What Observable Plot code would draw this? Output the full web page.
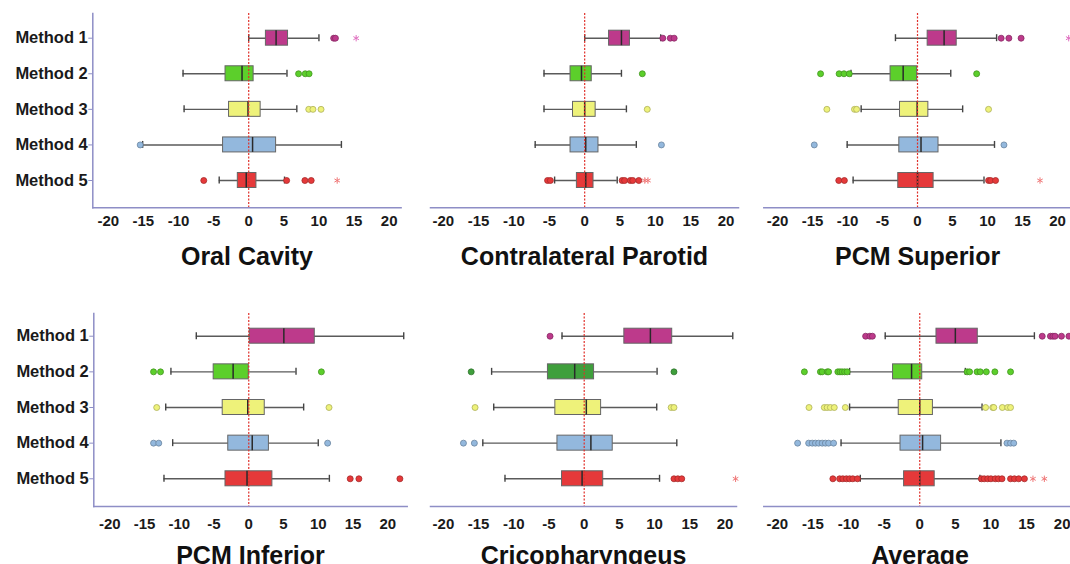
<!DOCTYPE html>
<html><head><meta charset="utf-8">
<script src="https://cdn.jsdelivr.net/npm/d3@7"></script>
<script src="https://cdn.jsdelivr.net/npm/@observablehq/plot@0.6"></script>
<style>
html,body{margin:0;padding:0;background:#fff;}
#wrap{position:relative;width:1070px;height:564px;overflow:hidden;background:#fff;}
.panel{position:absolute;}
.panel svg{max-width:none !important;background:transparent !important;}
</style></head><body><div id="wrap"></div>
<script>
// ---------- data ----------
const methods = ["Method 1", "Method 2", "Method 3", "Method 4", "Method 5"];
const panelTitles = ["Oral Cavity", "Contralateral Parotid", "PCM Superior", "PCM Inferior", "Cricopharyngeus", "Average"];
const xTicks = [-20, -15, -10, -5, 0, 5, 10, 15, 20];

const whiskerLow = [
  [0.0, -9.35, -9.2, -15.1, -4.2],
  [0.0, -5.75, -5.75, -7.0, -4.25],
  [-3.15, -9.5, -8.05, -10.05, -9.2],
  [-7.55, -11.2, -11.95, -10.95, -12.2],
  [-3.15, -13.15, -12.85, -14.4, -11.25],
  [-4.85, -9.85, -9.85, -11.05, -8.35]
];
const quartile1 = [
  [2.45, -3.3, -2.8, -3.65, -1.55],
  [3.45, -2.0, -1.65, -2.0, -1.1],
  [1.45, -3.85, -2.5, -2.6, -2.75],
  [0.15, -5.05, -3.75, -2.95, -3.35],
  [5.7, -5.15, -4.1, -3.8, -3.15],
  [2.35, -3.75, -2.95, -2.7, -2.2]
];
const median = [
  [3.9, -0.95, -0.1, 0.55, -0.35],
  [5.2, -0.45, 0.0, 0.15, 0.15],
  [3.8, -2.05, -0.05, 0.5, 0.0],
  [5.05, -2.25, -0.15, 0.5, -0.25],
  [9.4, -1.35, 0.3, 0.95, -0.3],
  [5.0, -1.15, 0.0, 0.4, 0.0]
];
const quartile3 = [
  [5.6, 0.7, 1.7, 3.9, 1.1],
  [6.4, 1.0, 1.55, 1.95, 1.25],
  [5.6, -0.05, 1.55, 3.0, 2.3],
  [9.5, 0.0, 2.3, 2.9, 3.4],
  [12.5, 1.4, 2.4, 4.05, 2.7],
  [8.15, 0.35, 1.85, 3.0, 2.1]
];
const whiskerHigh = [
  [10.0, 5.45, 6.85, 13.2, 5.1],
  [10.75, 5.2, 5.9, 7.3, 4.6],
  [11.3, 4.75, 6.45, 11.0, 9.5],
  [22.3, 6.8, 7.9, 10.0, 11.6],
  [21.1, 10.35, 10.3, 13.15, 10.7],
  [16.1, 6.4, 8.75, 11.4, 8.45]
];
const outliers = [
  [[12.1, 12.35], [7.1, 8.05, 8.6], [8.55, 9.15, 10.3], [-15.45], [-6.4, 5.4, 8.0, 8.9]],
  [[11.05, 12.1, 12.65], [8.15], [8.85], [10.85], [-5.25, -4.85, 5.3, 5.65, 6.45, 6.8, 7.65]],
  [[11.95, 13.05, 14.8], [-13.85, -11.2, -10.5, -9.75, 8.45], [-12.95, -9.0, -8.7, 10.15], [-14.75, 12.35], [-11.25, -10.45, 10.15, 10.45, 11.15]],
  [[], [-13.7, -12.7, 10.45], [-13.25, 11.55], [-13.7, -12.95, 11.35], [14.6, 15.85, 21.75]],
  [[-4.85], [-16.05, 12.75], [-15.5, 12.35, 12.75], [-17.15, -15.6], [12.75, 13.3, 13.85]],
  [[-7.6, -7.0, -6.65, 17.2, 18.35, 18.7, 19.0, 19.9, 20.95],
   [-16.2, -13.95, -13.7, -13.0, -12.8, -11.5, -11.2, -10.9, -10.55, -10.2, 6.65, 7.0, 8.05, 8.5, 9.35, 10.55, 12.75],
   [-15.55, -13.4, -13.0, -12.55, -12.0, -10.45, 9.25, 10.25, 10.4, 11.6, 12.35, 12.75],
   [-17.15, -15.6, -15.1, -14.65, -14.2, -13.7, -13.25, -12.8, -12.1, 12.25, 12.75, 13.2],
   [-12.2, -11.25, -10.8, -10.3, -9.85, -9.4, -8.75, 8.65, 9.05, 9.55, 10.0, 10.6, 11.05, 11.55, 12.75, 13.3, 13.9, 14.7]]
];
const extremes = [
  [[15.3], [], [], [], [12.6]],
  [[], [], [], [], [8.5, 8.95]],
  [[21.6], [], [], [], [17.5]],
  [[], [], [], [], []],
  [[], [], [], [], [21.5]],
  [[], [], [], [], [15.9, 17.5]]
];
const methodColors = ["#bd3a8b", "#5ccf2b", "#eef27a", "#93b8dd", "#e5393a"];
const cricoGreen = "#3f9f3c";
const extremeColors = ["#e070c0", "#e070c0", "#e070c0", "#e070c0", "#f07878"];

// ---------- layout ----------
const layout = [
  {left: 0,   top: 0,   width: 410, mt: 13, mb: 74.7, ml: 92.3, mr: 9.4, domain: [-22.2, 21.7], yRange: [30.2, 187.5], yAxis: true, tickPad: 7.7},
  {left: 415, top: 0,   width: 335, mt: 13, mb: 74.7, ml: 15,   mr: 12,  domain: [-21.8, 21.75], yRange: [30.2, 187.5], yAxis: false, tickPad: 7.7},
  {left: 750, top: 0,   width: 330, mt: 13, mb: 74.7, ml: 13.3, mr: 9,   domain: [-21.96, 22], yRange: [30.2, 187.5], yAxis: false, tickPad: 7.7},
  {left: 0,   top: 282, width: 415, mt: 31, mb: 58,   ml: 93.3, mr: 8.3, domain: [-22.3, 22.8], yRange: [46.2, 203.8], yAxis: true, tickPad: 11.7},
  {left: 415, top: 282, width: 335, mt: 31, mb: 58,   ml: 15,   mr: 14,  domain: [-21.83, 21.63], yRange: [46.2, 203.8], yAxis: false, tickPad: 11.7},
  {left: 750, top: 282, width: 330, mt: 31, mb: 58,   ml: 13.3, mr: 4.1, domain: [-21.9, 22], yRange: [46.2, 203.8], yAxis: false, tickPad: 11.7}
];
const H = 282;
const axisColor = "#8e8ec6";
const font = "'Liberation Sans', Arial, Helvetica, sans-serif";

const wrap = document.getElementById("wrap");

panelTitles.forEach((title, p) => {
  const L = layout[p];
  const colorOf = (i) => (p === 4 && i === 1) ? cricoGreen : methodColors[i];
  const boxes = methods.map((m, i) => ({
    method: m, lo: whiskerLow[p][i], q1: quartile1[p][i], med: median[p][i],
    q3: quartile3[p][i], hi: whiskerHigh[p][i], fill: colorOf(i)
  }));
  const outRows = [];
  const extRows = [];
  methods.forEach((m, i) => {
    outliers[p][i].forEach(v => outRows.push({method: m, v, fill: colorOf(i), stroke: d3.color(colorOf(i)).darker(0.9).formatHex()}));
    extremes[p][i].forEach(v => extRows.push({method: m, v, stroke: extremeColors[i]}));
  });

  const marks = [
    Plot.ruleY(boxes, {y: "method", x1: "lo", x2: "hi", stroke: "#5a5a5a", strokeWidth: 1.4}),
    Plot.tickX(boxes, {x: "lo", y: "method", stroke: "#444", strokeWidth: 1.4, insetTop: 4, insetBottom: 4}),
    Plot.tickX(boxes, {x: "hi", y: "method", stroke: "#444", strokeWidth: 1.4, insetTop: 4, insetBottom: 4}),
    Plot.barX(boxes, {x1: "q1", x2: "q3", y: "method", fill: "fill", stroke: "#666", strokeWidth: 1}),
    Plot.tickX(boxes, {x: "med", y: "method", stroke: "#2a2a2a", strokeWidth: 1.5}),
    Plot.ruleX([0], {stroke: "#e0302a", strokeWidth: 1.2, strokeDasharray: "2,1.5"}),
    Plot.dot(outRows, {x: "v", y: "method", r: 3, fill: "fill", stroke: "stroke", strokeWidth: 0.8}),
    Plot.dot(extRows, {x: "v", y: "method", r: 3, symbol: "asterisk", stroke: "stroke", strokeWidth: 1}),
    Plot.frame({anchor: "bottom", stroke: axisColor, strokeWidth: 1.5}),
    Plot.axisX({ticks: xTicks, tickFormat: d => String(d), tickSize: 0, tickPadding: L.tickPad,
      fontSize: 15, fontWeight: "bold", fill: "#1a1a1a", label: null}),
    Plot.text([title], {frameAnchor: "bottom", lineAnchor: "top", dy: 39.5, fontSize: 25,
      fontWeight: "bold", fill: "#111", text: d => d})
  ];
  if (L.yAxis) {
    marks.push(Plot.frame({anchor: "left", stroke: axisColor, strokeWidth: 1.5}));
    marks.push(Plot.axisY({anchor: "left", tickSize: 4, tickPadding: 1, stroke: axisColor,
      fontSize: 16.5, fontWeight: "bold", fill: "#1a1a1a", label: null}));
  }

  const chart = Plot.plot({
    width: L.width, height: H,
    marginTop: L.mt, marginBottom: L.mb, marginLeft: L.ml, marginRight: L.mr,
    style: {fontFamily: font, background: "transparent", overflow: "visible"},
    x: {domain: L.domain, axis: null},
    y: {type: "band", domain: methods, range: L.yRange, paddingInner: 0.579, paddingOuter: 0, round: false, axis: null},
    color: {type: "identity"},
    marks
  });
  const div = document.createElement("div");
  div.className = "panel";
  div.style.left = L.left + "px";
  div.style.top = L.top + "px";
  div.style.width = L.width + "px";
  div.style.height = H + "px";
  div.appendChild(chart);
  wrap.appendChild(div);
});
</script>
</body></html>
